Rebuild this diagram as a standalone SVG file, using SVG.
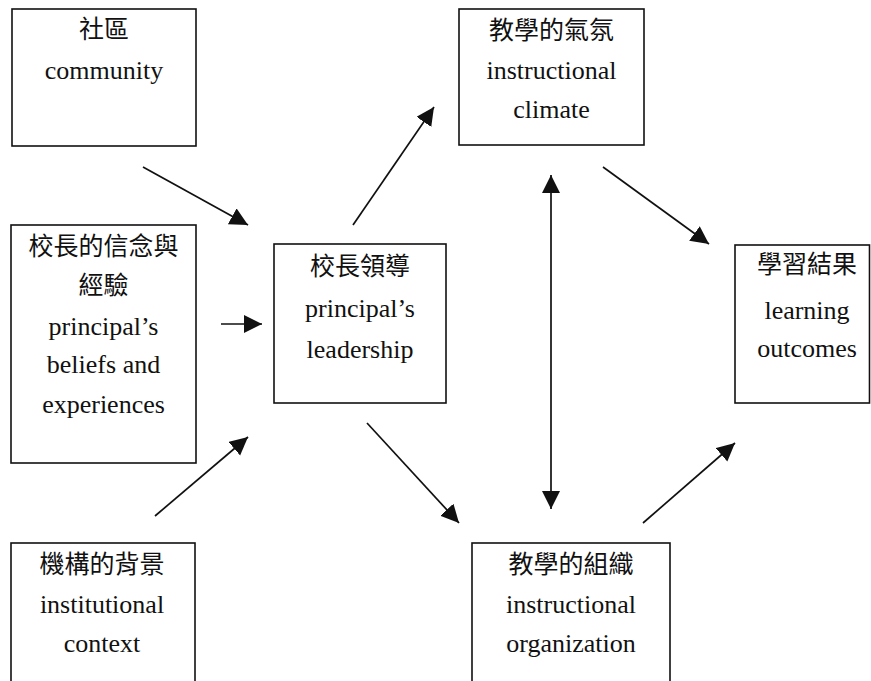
<svg xmlns="http://www.w3.org/2000/svg" width="871" height="681" viewBox="0 0 871 681">
<style>
rect.box{fill:#fff;stroke:#111;stroke-width:1.6}
text{font-family:"Liberation Serif","Noto Sans CJK TC",serif;font-size:26px;fill:#111;text-anchor:middle}
text.zh{font-family:"Noto Sans CJK TC","Noto Sans CJK SC",sans-serif;font-size:25px;font-weight:400}
#connectors line{stroke:#111;stroke-width:1.7;fill:none}
</style>
<defs>
<marker id="ah" markerUnits="userSpaceOnUse" markerWidth="19" markerHeight="19" viewBox="0 0 19 19" refX="18" refY="9" orient="auto-start-reverse">
<path d="M0,0 L18,9 L0,18 z" fill="#111"/>
</marker>
</defs>
<rect width="871" height="681" fill="#fff"/>
<g id="community">
<rect class="box" x="12" y="9" width="184" height="137"/>
<text class="zh" x="104" y="38">社區</text>
<text x="104" y="79">community</text>
</g>
<g id="beliefs">
<rect class="box" x="11" y="225" width="185" height="238"/>
<text class="zh" x="103.5" y="255">校長的信念與</text>
<text class="zh" x="103.5" y="294">經驗</text>
<text x="103.5" y="335">principal’s</text>
<text x="103.5" y="373">beliefs and</text>
<text x="103.5" y="413">experiences</text>
</g>
<g id="institutional">
<rect class="box" x="11" y="543" width="184" height="150"/>
<text class="zh" x="102" y="573">機構的背景</text>
<text x="102" y="613">institutional</text>
<text x="102" y="652">context</text>
</g>
<g id="leadership">
<rect class="box" x="274" y="244" width="172" height="159"/>
<text class="zh" x="360" y="275">校長領導</text>
<text x="360" y="317">principal’s</text>
<text x="360" y="358">leadership</text>
</g>
<g id="climate">
<rect class="box" x="459" y="9" width="185" height="136"/>
<text class="zh" x="551.5" y="39">教學的氣氛</text>
<text x="551.5" y="79">instructional</text>
<text x="551.5" y="118">climate</text>
</g>
<g id="outcomes">
<rect class="box" x="735" y="245" width="134.5" height="158"/>
<text class="zh" x="807" y="273">學習結果</text>
<text x="807" y="319">learning</text>
<text x="807" y="357">outcomes</text>
</g>
<g id="organization">
<rect class="box" x="472" y="543" width="198" height="150"/>
<text class="zh" x="571" y="573">教學的組織</text>
<text x="571" y="613">instructional</text>
<text x="571" y="652">organization</text>
</g>
<g id="connectors">
<line x1="143" y1="167" x2="248" y2="225" marker-end="url(#ah)"/>
<line x1="221" y1="324" x2="262" y2="324" marker-end="url(#ah)"/>
<line x1="155" y1="516" x2="248" y2="437" marker-end="url(#ah)"/>
<line x1="353" y1="225" x2="434" y2="107" marker-end="url(#ah)"/>
<line x1="367" y1="423" x2="459" y2="523" marker-end="url(#ah)"/>
<line x1="551" y1="175" x2="551" y2="509" marker-start="url(#ah)" marker-end="url(#ah)"/>
<line x1="603" y1="167" x2="709" y2="244" marker-end="url(#ah)"/>
<line x1="643" y1="523" x2="735" y2="443" marker-end="url(#ah)"/>
</g>
</svg>
